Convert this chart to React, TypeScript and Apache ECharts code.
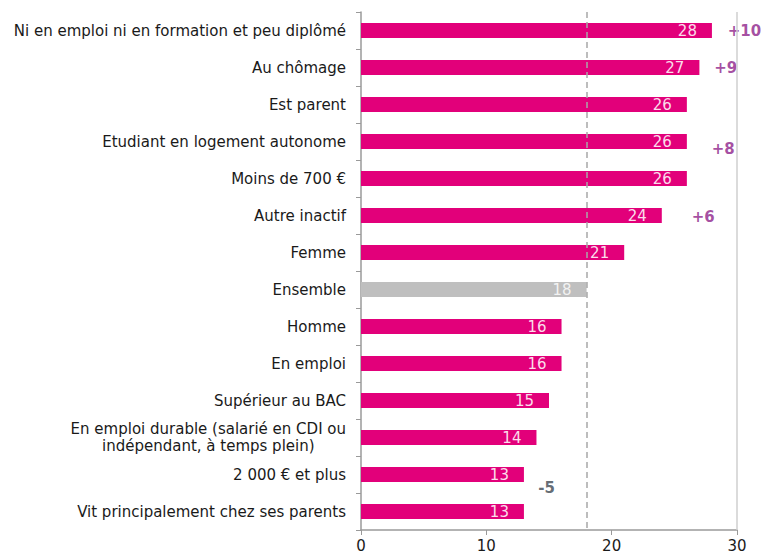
import React, { useEffect, useRef } from "react";
import * as echarts from "echarts";

const categories = [
  "Ni en emploi ni en formation et peu diplômé",
  "Au chômage",
  "Est parent",
  "Etudiant en logement autonome",
  "Moins de 700 €",
  "Autre inactif",
  "Femme",
  "Ensemble",
  "Homme",
  "En emploi",
  "Supérieur au BAC",
  "En emploi durable (salarié en CDI ou\nindépendant, à temps plein)",
  "2 000 € et plus",
  "Vit principalement chez ses parents",
];
const values = [28, 27, 26, 26, 26, 24, 21, 18, 16, 16, 15, 14, 13, 13];
const deltas = ["+10", "+9", "", "+8", "", "+6", "", "", "", "", "", "", "-5", ""];
const xTicks = [0, 10, 20, 30];
const averageValue = 18;

const PINK = "#e2007a";
const GREY = "#bfbfbf";
const FONT = "DejaVu Sans";

export default function App() {
  const ref = useRef<HTMLDivElement>(null);
  useEffect(() => {
    document.body.style.margin = "0";
    if (!ref.current) return;
    const chart = echarts.init(ref.current, undefined, { renderer: "svg" });
    const annData: any[] = [];
    const annOffsets: Record<string, [number, number]> = {
      "+10": [2.6, 0],
      "+9": [2.1, 0],
      "+8": [2.9, 7],
      "+6": [3.3, 1],
      "-5": [1.8, 13],
    };
    deltas.forEach((d, i) => {
      if (!d) return;
      const off = annOffsets[d] || [2, 0];
      annData.push({
        value: [values[i] + off[0], i],
        label: {
          show: true,
          formatter: d,
          offset: [0, off[1]],
          color: d.startsWith("-") ? "#3c4650" : "#8e1f8a",
        },
      });
    });
    chart.setOption({
      animation: false,
      grid: { left: 361, right: 24, top: 12, bottom: 25 },
      xAxis: {
        type: "value",
        min: 0,
        max: 30,
        interval: 10,
        axisLine: { show: true, lineStyle: { color: "#9a9a9a", width: 1.5 } },
        axisTick: { show: true, length: 5, lineStyle: { color: "#9a9a9a" } },
        axisLabel: {
          color: "#1a1a1a",
          fontFamily: FONT,
          fontSize: 15,
          margin: 8,
          formatter: (v: number) => (xTicks.includes(v) ? String(v) : ""),
        },
        splitLine: { show: false },
      },
      yAxis: {
        type: "category",
        data: categories,
        inverse: true,
        axisLine: { show: true, lineStyle: { color: "#9a9a9a", width: 1.5 } },
        axisTick: { show: true, length: 5, lineStyle: { color: "#9a9a9a" } },
        axisLabel: {
          color: "#1a1a1a",
          fontFamily: FONT,
          fontSize: 15,
          margin: 15,
          lineHeight: 17,
          formatter: (v: string) =>
            v.includes("\n")
              ? v
                  .split("\n")
                  .map((s) => "{c|" + s + "}")
                  .join("\n")
              : v,
          rich: {
            c: {
              align: "center",
              fontFamily: FONT,
              fontSize: 15,
              color: "#1a1a1a",
              lineHeight: 17,
            },
          },
        },
      },
      series: [
        {
          type: "bar",
          data: values.map((v, i) => ({
            value: v,
            itemStyle: { color: categories[i] === "Ensemble" ? GREY : PINK },
            label: {
              color: categories[i] === "Ensemble" ? "#f2f2f2" : "#fbdcea",
            },
          })),
          barWidth: 15,
          label: {
            show: true,
            position: "insideRight",
            distance: 15,
            fontFamily: FONT,
            fontSize: 15,
          },
          markLine: {
            silent: true,
            symbol: "none",
            label: { show: false },
            data: [
              {
                xAxis: averageValue,
                lineStyle: { color: "#a8a8a8", type: [6, 4], width: 1.5 },
              },
              {
                xAxis: 30,
                lineStyle: { color: "#cfcfcf", type: "solid", width: 1.5 },
              },
            ],
          },
        },
        {
          type: "scatter",
          symbolSize: 0,
          clip: false,
          data: annData,
          label: {
            show: true,
            position: "inside",
            fontFamily: FONT,
            fontSize: 15,
            fontWeight: "bold",
          },
        },
      ],
    });
    return () => chart.dispose();
  }, []);
  return <div ref={ref} style={{ width: 761, height: 555 }} />;
}
